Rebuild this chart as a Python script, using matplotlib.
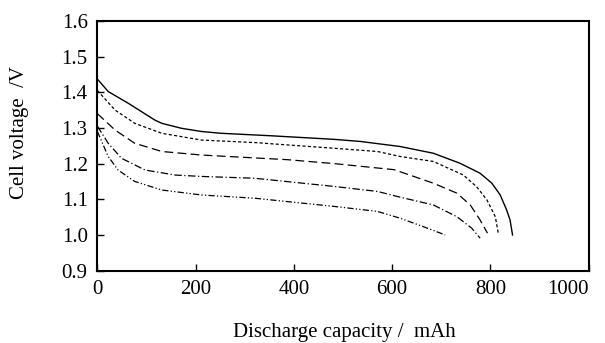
import matplotlib
matplotlib.use("Agg")
import matplotlib.pyplot as plt
import numpy as np

plt.rcParams["font.family"] = ["Liberation Serif", "DejaVu Serif"]

# Discharge curves (capacity mAh, voltage V)
cap_1 = [0, 22, 63, 117, 131, 171, 212, 252, 354, 482, 536, 616, 684, 738, 779, 803, 820, 833, 840, 845]
volt_1 = [1.437, 1.402, 1.369, 1.322, 1.313, 1.299, 1.290, 1.285, 1.278, 1.268, 1.262, 1.248, 1.229, 1.201, 1.173, 1.145, 1.112, 1.07, 1.042, 1.0]

cap_2 = [0, 36, 76, 131, 212, 320, 482, 570, 616, 684, 745, 772, 793, 810, 816]
volt_2 = [1.405, 1.35, 1.313, 1.285, 1.266, 1.259, 1.243, 1.234, 1.220, 1.206, 1.168, 1.135, 1.098, 1.051, 1.005]

cap_3 = [0, 36, 76, 131, 212, 387, 482, 604, 684, 732, 759, 779, 794]
volt_3 = [1.34, 1.294, 1.257, 1.234, 1.224, 1.211, 1.2, 1.183, 1.145, 1.117, 1.084, 1.042, 1.005]

cap_4 = [0, 22, 49, 97, 158, 212, 320, 482, 570, 616, 684, 732, 762, 779]
volt_4 = [1.305, 1.257, 1.215, 1.182, 1.168, 1.164, 1.159, 1.136, 1.122, 1.106, 1.084, 1.051, 1.019, 0.991]

cap_5 = [0, 22, 42, 76, 131, 212, 320, 482, 570, 616, 664, 708]
volt_5 = [1.29, 1.22, 1.182, 1.15, 1.126, 1.112, 1.103, 1.08, 1.066, 1.047, 1.023, 1.0]

x_ticks = [0, 200, 400, 600, 800, 1000]
y_ticks = [0.9, 1.0, 1.1, 1.2, 1.3, 1.4, 1.5, 1.6]

fig = plt.figure(figsize=(6.05, 3.43), dpi=100)
ax = fig.add_axes([0.161, 0.211, 0.812, 0.728])

ax.plot(cap_1, volt_1, color="black", lw=1.0, linestyle="-")
ax.plot(cap_2, volt_2, color="black", lw=0.9, linestyle=(0, (2.5, 1.8)))
ax.plot(cap_3, volt_3, color="black", lw=0.9, linestyle=(0, (7, 3.5)))
ax.plot(cap_4, volt_4, color="black", lw=0.9, linestyle=(0, (6, 2, 1, 2)))
ax.plot(cap_5, volt_5, color="black", lw=0.9, linestyle=(0, (5, 1.8, 1, 1.8, 1, 1.8)))

ax.set_xlim(0, 1000)
ax.set_ylim(0.9, 1.6)
ax.set_xticks(x_ticks)
ax.set_yticks(y_ticks)
ax.set_yticklabels([f"{v:.1f}" for v in y_ticks])
ax.tick_params(direction="in", length=5, width=1, labelsize=15, colors="black",
               top=False, right=False, pad=7)
# last x label sits flush with the right frame, as in the original
ax.get_xticklabels()[-1].set_horizontalalignment("right")
for spine in ax.spines.values():
    spine.set_linewidth(1.5)

fig.text(0.569, 0.004, "Discharge capacity /  mAh", ha="center", va="bottom", fontsize=15)
fig.text(0.033, 0.615, "Cell voltage  /V", ha="center", va="center", rotation=90, fontsize=15)

fig.savefig("out.png", dpi=100)
